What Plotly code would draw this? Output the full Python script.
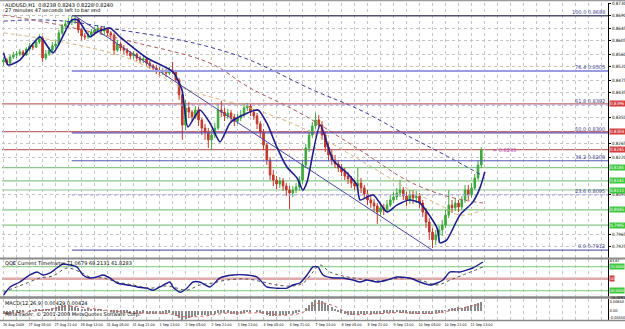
import plotly.graph_objects as go

# ---------------- data ----------------
opens = [.8535,.8541,.8531,.8551,.8558,.8561,.8568,.8558,.8578,.8588,
         .8584,.8601,.8614,.8548,.8561,.8574,.8588,.8594,.8631,.8654,
         .8661,.8667,.8674,.8677,.8641,.8621,.8618,.8624,.8634,.8641,
         .8647,.8637,.8644,.8631,.8624,.8574,.8594,.8581,.8574,.8565,
         .8555,.8561,.8548,.8541,.8545,.8531,.8522,.8515,.8508,.8502,
         .8505,.8498,.8508,.8502,.8475,.8426,.8326,.8383,.8369,.8353,
         .8376,.8343,.8316,.8303,.8277,.8293,.8316,.8376,.8369,.8356,
         .8366,.8353,.8339,.8349,.8359,.8383,.8389,.8369,.8356,.8330,
         .8303,.8260,.8210,.8161,.8144,.8131,.8141,.8124,.8111,.8101,
         .8111,.8121,.8144,.8194,.8250,.8293,.8323,.8343,.8326,.8293,
         .8253,.8227,.8210,.8197,.8184,.8171,.8157,.8148,.8134,.8124,
         .8134,.8118,.8098,.8078,.8068,.8058,.8038,.8052,.8045,.8061,
         .8078,.8088,.8101,.8111,.8091,.8078,.8095,.8085,.8091,.8068,
         .8038,.8005,.7972,.7946,.7962,.7979,.7995,.8028,.8061,.8052,
         .8068,.8055,.8078,.8111,.8095,.8118,.8151,.8194]
closes = [.8541,.8531,.8551,.8558,.8561,.8568,.8558,.8578,.8588,.8584,
          .8601,.8614,.8548,.8561,.8574,.8588,.8594,.8631,.8654,.8661,
          .8667,.8674,.8677,.8641,.8621,.8618,.8624,.8634,.8641,.8647,
          .8637,.8644,.8631,.8624,.8574,.8594,.8581,.8574,.8565,.8555,
          .8561,.8548,.8541,.8545,.8531,.8522,.8515,.8508,.8502,.8505,
          .8498,.8508,.8502,.8475,.8426,.8326,.8383,.8369,.8353,.8376,
          .8343,.8316,.8303,.8277,.8293,.8316,.8376,.8369,.8356,.8366,
          .8353,.8339,.8349,.8359,.8383,.8389,.8369,.8356,.8330,.8303,
          .8260,.8210,.8161,.8144,.8131,.8141,.8124,.8111,.8101,.8111,
          .8121,.8144,.8194,.8250,.8293,.8323,.8343,.8326,.8293,.8253,
          .8227,.8210,.8197,.8184,.8171,.8157,.8148,.8134,.8124,.8134,
          .8118,.8098,.8078,.8068,.8058,.8038,.8052,.8045,.8061,.8078,
          .8088,.8101,.8111,.8091,.8078,.8095,.8085,.8091,.8068,.8038,
          .8005,.7972,.7946,.7962,.7979,.7995,.8028,.8061,.8052,.8068,
          .8055,.8078,.8111,.8095,.8118,.8151,.8194,.8243]
highs = [.8551,.8548,.8558,.8568,.8571,.8578,.8574,.8584,.8598,.8598,
         .8608,.8627,.8621,.8574,.8584,.8601,.8608,.8641,.8661,.8674,
         .8680,.8687,.8690,.8680,.8647,.8631,.8634,.8644,.8651,.8657,
         .8654,.8654,.8647,.8637,.8631,.8608,.8601,.8591,.8581,.8571,
         .8571,.8565,.8555,.8555,.8551,.8538,.8528,.8525,.8518,.8515,
         .8512,.8518,.8535,.8508,.8482,.8435,.8409,.8402,.8376,.8389,
         .8386,.8349,.8330,.8316,.8310,.8333,.8396,.8406,.8383,.8379,
         .8376,.8363,.8363,.8376,.8396,.8399,.8396,.8379,.8366,.8339,
         .8313,.8267,.8220,.8177,.8157,.8154,.8151,.8134,.8124,.8124,
         .8134,.8157,.8210,.8263,.8310,.8336,.8366,.8359,.8339,.8303,
         .8267,.8243,.8227,.8210,.8197,.8184,.8171,.8157,.8144,.8184,
         .8151,.8128,.8111,.8091,.8081,.8068,.8068,.8065,.8078,.8095,
         .8104,.8118,.8144,.8121,.8104,.8111,.8111,.8108,.8101,.8078,
         .8052,.8018,.7985,.7979,.7992,.8012,.8045,.8111,.8078,.8085,
         .8078,.8091,.8128,.8128,.8134,.8164,.8210,.8253]
lows = [.8522,.8525,.8528,.8545,.8548,.8555,.8551,.8555,.8571,.8574,
        .8581,.8594,.8535,.8541,.8555,.8568,.8578,.8588,.8624,.8644,
        .8651,.8657,.8661,.8631,.8608,.8608,.8611,.8618,.8627,.8631,
        .8627,.8624,.8621,.8611,.8558,.8568,.8571,.8561,.8555,.8545,
        .8545,.8538,.8531,.8531,.8522,.8512,.8502,.8495,.8488,.8492,
        .8485,.8492,.8495,.8469,.8409,.8277,.8310,.8349,.8339,.8346,
        .8323,.8293,.8277,.8250,.8243,.8283,.8310,.8353,.8339,.8346,
        .8336,.8323,.8330,.8339,.8353,.8373,.8356,.8343,.8313,.8287,
        .8243,.8194,.8144,.8124,.8114,.8118,.8108,.8091,.8048,.8088,
        .8101,.8108,.8131,.8184,.8237,.8283,.8313,.8313,.8277,.8237,
        .8210,.8194,.8184,.8171,.8157,.8144,.8131,.8118,.8111,.8111,
        .8101,.8081,.8061,.8052,.8038,.7999,.8025,.8028,.8038,.8055,
        .8068,.8078,.8088,.8078,.8058,.8065,.8065,.8068,.8052,.8022,
        .7985,.7946,.7919,.7929,.7936,.7959,.7985,.8018,.8035,.8042,
        .8038,.8045,.8068,.8078,.8085,.8111,.8144,.8184]

# moving averages (bar index, price)
fast_ma_x = [0,1.4,5.0,11.2,15.2,21.0,22.9,26.6,28.7,32.7,35.8,44.1,52.1,54.9,56.7,60.4,63.5,66.6,69.7,73.7,78.3,81.0,84.1,87.2,90.3,92.1,93.4,97.4,101.4,105.7,108.7,109.7,113.7,118.0,121.0,125.0,128.1,133.4,134.3,136.4,140.4,144.4,146.6,148.1]
fast_ma_y = [.8565,.8525,.8541,.8618,.8565,.8674,.8674,.8618,.8634,.8647,.8618,.8548,.8502,.8442,.8320,.8376,.8333,.8270,.8333,.8359,.8376,.8333,.8253,.8187,.8151,.8111,.8138,.8326,.8210,.8167,.8128,.8078,.8095,.8038,.8061,.8078,.8068,.7985,.7936,.7946,.8028,.8071,.8118,.8171]
slow_ma_x = [0,11.2,21.4,35.8,51.2,63.5,75.8,95.2,109.7,125.0,135.8,147]
slow_ma_y = [.8670,.8674,.8667,.8641,.8614,.8584,.8541,.8442,.8376,.8287,.8227,.8161]
mid_ma_x = [0,17.3,39.8,63.5,75.8,91.2,109.7,125.0,137.3,147.5]
mid_ma_y = [.8690,.8657,.8601,.8531,.8449,.8366,.8243,.8138,.8088,.8068]
tan_ma_x = [0,19.5,39.8,55.2,75.8,91.2,109.7,125.0,134.3,140.4,147.5]
tan_ma_y = [.8631,.8598,.8541,.8449,.8383,.8320,.8210,.8111,.8061,.8028,.8045]

trend_x = [22.0, 131.8]
trend_y = [.8687, .7913]

fib_names = ["100.0", "76.4", "61.8", "50.0", "38.2", "23.6", "0.0"]
fib_levels = [.8688, .8505, .8392, .8300, .8208, .8095, .7912]
fib_start = 21

red_levels = [.8396, .8304, .8245]
green_levels = [.8185, .8141, .8111, .8045, .7995]

price_ticks = [.8730,.8690,.8645,.8605,.8560,.8520,.8475,.8435,.8390,.8350,
               .8305,.8265,.8220,.8180,.8135,.8095,.8050,.8010,.7965,.7925]

# QQE
qqe_x = [0,2.0,5.0,8.1,10.3,12.1,14.3,16.4,18.3,20.4,22.6,24.4,26.6,28.7,30.6,32.7,34.9,38.0,41.1,44.1,46.0,48.1,51.2,52.1,54.3,56.4,58.3,60.4,63.5,66.6,70.6,74.9,78.0,81.0,84.1,87.2,89.0,91.2,93.4,95.2,96.7,98.3,101.4,104.4,107.5,109.7,111.8,114.9,118.0,121.0,125.0,128.1,131.2,133.4,135.2,137.4,140.4,142.6,144.4,147.5]
qqe_y = [22.8,36.2,44.5,56.2,61.2,56.2,59.5,67.8,74.5,72.8,69.5,56.2,51.2,52.8,56.2,51.2,42.8,39.5,36.2,34.2,30.8,36.2,44.5,36.2,27.5,34.2,44.5,44.5,36.2,51.2,56.2,56.2,52.8,36.2,34.2,34.2,39.5,42.8,56.2,69.5,69.5,56.2,51.2,51.2,47.8,44.5,47.8,44.5,47.8,52.8,51.2,44.5,39.5,42.8,47.8,61.2,61.2,64.5,67.8,77.8]
qqe_sig_x = [0,3,7.2,11.2,15.2,19.5,23.5,26.6,30.6,34.9,39.8,45,50.3,53.4,56.4,60.4,64.4,68.7,74.9,79.8,84.1,89,92.2,95.2,97.4,100.4,104.4,109.7,115.8,122,128.1,133.4,137.4,141.4,147.5]
qqe_sig_y = [27.5,34.2,42.8,51.2,54.5,67.8,61.2,52.8,51.2,44.5,39.5,34.2,37.8,34.2,30.8,39.5,42.8,47.8,49.5,44.5,39.5,37.8,42.8,61.2,72.8,61.2,54.5,49.5,46.2,51.2,47.8,39.5,47.8,56.2,69.5]
qqe_levels_green = [70, 30]
qqe_level_red = 50

# MACD histogram per bar
macd_hist = [-.0015,-.0015,-.0013,-.0010,-.0008,-.0005,-.0003,.0000,-.0003,.0003,
             .0005,.0010,.0008,.0005,.0010,.0015,.0020,.0026,.0031,.0031,
             .0028,.0026,.0020,.0015,.0010,.0010,.0013,.0010,.0008,.0008,
             .0005,.0003,.0000,-.0003,-.0010,-.0010,-.0008,-.0010,-.0010,-.0013,
             -.0013,-.0010,-.0013,-.0010,-.0013,-.0015,-.0015,-.0015,-.0013,-.0013,
             -.0010,-.0010,-.0015,-.0026,-.0036,-.0046,-.0041,-.0036,-.0031,-.0026,
             -.0023,-.0020,-.0020,-.0023,-.0020,-.0015,-.0010,-.0008,-.0008,-.0010,
             -.0013,-.0015,-.0018,-.0015,-.0010,-.0005,-.0003,.0000,-.0003,-.0008,
             -.0015,-.0020,-.0026,-.0028,-.0026,-.0023,-.0020,-.0018,-.0015,-.0013,
             -.0010,-.0005,.0000,.0015,.0031,.0046,.0056,.0056,.0051,.0041,
             .0031,.0020,.0010,-.0005,-.0010,-.0015,-.0020,-.0023,-.0020,-.0018,
             -.0015,-.0013,-.0013,-.0015,-.0015,-.0015,-.0013,-.0010,-.0010,-.0008,
             -.0008,-.0005,-.0005,-.0008,-.0010,-.0013,-.0015,-.0015,-.0015,-.0015,
             -.0015,-.0015,-.0013,-.0010,-.0008,-.0003,.0003,.0010,.0015,.0015,
             .0018,.0015,.0018,.0023,.0031,.0036,.0041,.0046]
macd_sig_x = [0,8,15,20,26,32,40,50,56,62,68,75,80,86,92,97,101,107,115,122,128,134,140,147]
macd_sig_y = [-.0012,-.0003,.0010,.0025,.0015,.0003,-.0010,-.0013,-.0030,-.0025,-.0012,-.0010,-.0010,-.0022,-.0008,.0040,.0030,-.0015,-.0014,-.0008,-.0013,-.0010,.0012,.0035]

date_labels = ["26 Aug 2009","27 Aug 05:00","27 Aug 21:00","28 Aug 13:00","31 Aug 05:00",
               "31 Aug 21:00","1 Sep 13:00","2 Sep 05:00","2 Sep 21:00","3 Sep 13:00",
               "4 Sep 05:00","4 Sep 21:00","7 Sep 13:00","8 Sep 05:00","8 Sep 21:00",
               "9 Sep 13:00","10 Sep 05:00","10 Sep 21:00","11 Sep 13:00"]

# ---------------- styling ----------------
W, H = 625, 329
ML, MR, MT, MB = 2, 17, 3, 8
PW, PH = W - ML - MR, H - MT - MB

def px(xp):
    return (xp - ML) / PW

def py(yp):
    return (H - MB - yp) / PH

UP = "#3da83d"
DN = "#c0392b"
NAVY = "#1c1c8c"
FONT = "DejaVu Sans"
NARROW = "Liberation Sans Narrow, DejaVu Sans Condensed, Liberation Sans, Arial"
GRID = "#c4c4c4"

N = len(closes)
idx = list(range(N))
XR = [-0.49, 186.0]

fig = go.Figure()

fig.add_trace(go.Candlestick(
    x=idx, open=opens, high=highs, low=lows, close=closes,
    increasing=dict(line=dict(color=UP, width=1), fillcolor=UP),
    decreasing=dict(line=dict(color=DN, width=1), fillcolor=DN),
    whiskerwidth=0, xaxis="x", yaxis="y", hoverinfo="skip"))

fig.add_trace(go.Scatter(x=slow_ma_x, y=slow_ma_y, mode="lines", line=dict(color="#3b3b9e", width=1, dash="4px,3px", shape="spline"), xaxis="x", yaxis="y"))
fig.add_trace(go.Scatter(x=mid_ma_x, y=mid_ma_y, mode="lines", line=dict(color="#b05a5a", width=1, dash="4px,3px", shape="spline"), xaxis="x", yaxis="y"))
fig.add_trace(go.Scatter(x=tan_ma_x, y=tan_ma_y, mode="lines", line=dict(color="#d8b47c", width=1, dash="4px,3px", shape="spline"), xaxis="x", yaxis="y"))
fig.add_trace(go.Scatter(x=trend_x, y=trend_y, mode="lines", line=dict(color="#4646a8", width=1), xaxis="x", yaxis="y"))

fib_styles = {
    "100.0": dict(color="#505070", width=1.4),
    "76.4": dict(color="#9c9ce0", width=2),
    "61.8": dict(color="#a6a6e6", width=1.2, dash="dot"),
    "50.0": dict(color="#6050b8", width=1.3),
    "38.2": dict(color="#5a5ab8", width=1.1),
    "23.6": dict(color="#a6a6e6", width=1.2, dash="dot"),
    "0.0": dict(color="#6a6ab8", width=1.4),
}

shapes = []
for lv in red_levels:
    shapes.append(dict(type="line", xref="x domain", yref="y", x0=0, x1=1, y0=lv, y1=lv,
                       line=dict(color="#bf6a6a", width=1.2), layer="below"))
for lv in green_levels:
    shapes.append(dict(type="line", xref="x domain", yref="y", x0=0, x1=1, y0=lv, y1=lv,
                       line=dict(color="#86c886", width=1.2), layer="below"))

for name, lv in zip(fib_names, fib_levels):
    fig.add_trace(go.Scatter(x=[fib_start, XR[1]], y=[lv, lv], mode="lines",
                             line=fib_styles[name], xaxis="x", yaxis="y"))

fig.add_trace(go.Scatter(x=fast_ma_x, y=fast_ma_y, mode="lines", line=dict(color=NAVY, width=1.6, shape="spline", smoothing=0.6), xaxis="x", yaxis="y"))

# QQE panel
for lv in qqe_levels_green:
    shapes.append(dict(type="line", xref="x2 domain", yref="y2", x0=0, x1=1, y0=lv, y1=lv,
                       line=dict(color="#8fd48f", width=1.2), layer="below"))
shapes.append(dict(type="line", xref="x2 domain", yref="y2", x0=0, x1=1, y0=qqe_level_red, y1=qqe_level_red,
                   line=dict(color="#e0a8a8", width=2.5), layer="below"))
fig.add_trace(go.Scatter(x=qqe_sig_x, y=qqe_sig_y, mode="lines", line=dict(color="#555555", width=1, dash="dot", shape="spline"), xaxis="x2", yaxis="y2"))
fig.add_trace(go.Scatter(x=qqe_x, y=qqe_y, mode="lines", line=dict(color=NAVY, width=1.4, shape="spline", smoothing=0.6), xaxis="x2", yaxis="y2"))

# MACD panel
fig.add_trace(go.Bar(x=idx, y=macd_hist, width=0.35, marker=dict(color="#8a8a8a", line=dict(width=0)), xaxis="x3", yaxis="y3"))
fig.add_trace(go.Scatter(x=macd_sig_x, y=macd_sig_y, mode="lines", line=dict(color="#d06060", width=1, dash="dot", shape="spline"), xaxis="x3", yaxis="y3"))

# panel separators
for yp, wdt in [(258.5, 2), (297.5, 2.5), (320.5, 1.5)]:
    shapes.append(dict(type="line", xref="paper", yref="paper", x0=-0.01, x1=1.03, y0=py(yp), y1=py(yp),
                       line=dict(color="#8a8a8a", width=wdt)))
shapes.append(dict(type="line", xref="paper", yref="paper", x0=-0.01, x1=1.03, y0=py(0.5), y1=py(0.5),
                   line=dict(color="#9a9a9a", width=1.5)))

annotations = []
def txt(xp, yp, s, size=5, color="#000000", anchor="left"):
    annotations.append(dict(xref="paper", yref="paper", x=px(xp), y=py(yp), text=s, showarrow=False,
                            xanchor=anchor, yanchor="middle", font=dict(family=FONT, size=size, color=color)))

txt(3, 4.5, "AUDUSD,H1  0.8238 0.8243 0.8228 0.8240")
txt(3, 10, "27 minutes 47 seconds left to bar end")
txt(3, 262.5, "QQE Current Timeframe 71.0679 69.2131 61.8283")
txt(3, 302.5, "MACD(12,26,9) 0.00429 0.00424")
txt(3, 314.5, "MetaTrader, © 2001-2009 MetaQuotes Software Corp.")

# fib labels at right
for name, lv in zip(fib_names, fib_levels):
    annotations.append(dict(xref="paper", yref="y", x=1.0, y=lv, text=f"{name} {lv:.4f}", showarrow=False,
                            xanchor="right", yanchor="bottom", xshift=-1, yshift=-1,
                            font=dict(family=FONT, size=5, color="#3a3a90")))
# colored price boxes (drawn over the price scale)
box_levels = red_levels + green_levels
boxfont = dict(family=NARROW, size=4.5, color="#ffffff")
smallbox = dict(family=NARROW, size=3.8, color="#ffffff")
for lv in red_levels:
    annotations.append(dict(xref="paper", yref="y", x=1.0, y=lv, text=f"{lv:.4f}", showarrow=False,
                            xanchor="left", yanchor="middle", xshift=1, bgcolor="#d23c3c", borderpad=0,
                            font=boxfont))
for lv in green_levels:
    annotations.append(dict(xref="paper", yref="y", x=1.0, y=lv, text=f"{lv:.4f}", showarrow=False,
                            xanchor="left", yanchor="middle", xshift=1, bgcolor="#3cc83c", borderpad=0,
                            font=boxfont))
annotations.append(dict(xref="x", yref="y", x=N + 2, y=closes[-1], text="← 0.8243", showarrow=False,
                        xanchor="left", yanchor="middle", font=dict(family=FONT, size=5, color="#c040c0")))
for lv, col in [(70, "#3cc83c"), (50, "#d23c3c"), (30, "#3cc83c")]:
    annotations.append(dict(xref="paper", yref="y2", x=1.0, y=lv, text=f"{lv:.4f}" if lv != 50 else "50", showarrow=False,
                            xanchor="left", yanchor="middle", xshift=1, bgcolor=col, borderpad=0,
                            font=smallbox))

# price scale labels hidden where a coloured box covers them
scale_ticks = [v for v in price_ticks if all(abs(v - b) > 0.0016 for b in box_levels)]

grid_vals = list(range(0, 186, 4))
xcommon = dict(range=XR, showgrid=True, gridcolor=GRID, griddash="dot", gridwidth=1,
               tickvals=grid_vals, zeroline=False, showline=False, fixedrange=True, automargin=False)
tick_text = [date_labels[v // 8] if (v % 8 == 0 and v // 8 < len(date_labels)) else "" for v in grid_vals]

yfont = dict(family=NARROW, size=4.5, color="#000000")
sfont = dict(family=NARROW, size=3.8, color="#000000")
fig.update_layout(
    width=W, height=H, margin=dict(l=ML, r=MR, t=MT, b=MB, autoexpand=False),
    paper_bgcolor="#ffffff", plot_bgcolor="#ffffff", showlegend=False, hovermode=False,
    xaxis=dict(domain=[0, 1], anchor="y", showticklabels=False, rangeslider=dict(visible=False), **xcommon),
    xaxis2=dict(domain=[0, 1], anchor="y2", matches="x", showticklabels=False, **xcommon),
    xaxis3=dict(domain=[0, 1], anchor="y3", matches="x", showticklabels=True, ticktext=tick_text,
                ticks="", tickangle=0, tickfont=dict(family=NARROW, size=3.7, color="#000000"),
                ticklabelshift=10, ticklabelstandoff=1, **xcommon),
    yaxis=dict(domain=[py(258), py(3)], range=[0.7886, 0.8730], side="right", tickvals=scale_ticks,
               ticktext=[f"{v:.4f}" for v in scale_ticks], tickfont=yfont, ticks="outside", ticklen=2,
               tickcolor="#000", showgrid=True, gridcolor=GRID, griddash="dot", zeroline=False,
               showline=True, linecolor="#000000", linewidth=1, fixedrange=True, automargin=False),
    yaxis2=dict(domain=[py(297), py(259)], range=[19.5, 82.8], side="right", anchor="x2",
                tickvals=[80.5], ticktext=["83.67"], tickfont=sfont, ticks="",
                showgrid=False, zeroline=False, showline=True, linecolor="#000000", linewidth=1,
                fixedrange=True, automargin=False),
    yaxis3=dict(domain=[py(320), py(299)], range=[-0.0046, 0.0061], side="right", anchor="x3",
                tickvals=[0.0045, 0, -0.0036], ticktext=["0.00650", "0.00", "-0.00450"], tickfont=sfont, ticks="",
                showgrid=False, zeroline=False, showline=True, linecolor="#000000", linewidth=1,
                fixedrange=True, automargin=False),
    shapes=shapes, bargap=0,
)
# lowest label of the QQE scale, placed just under the 30 box
annotations.append(dict(xref="paper", yref="y2", x=1.0, y=19.5, text="16.0091", showarrow=False,
                        xanchor="left", yanchor="top", xshift=1, yshift=4, font=sfont))
fig.update_layout(annotations=annotations)

fig.write_html("out.html")
